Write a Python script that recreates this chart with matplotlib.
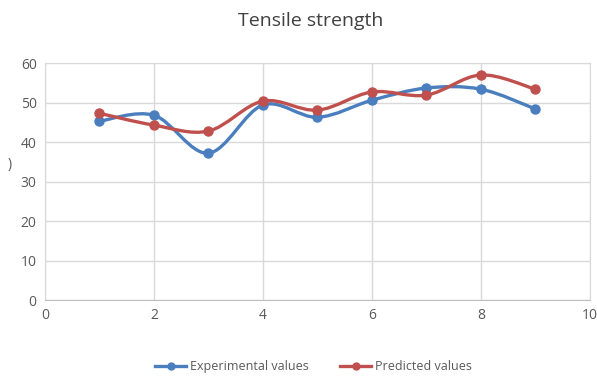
import numpy as np
import matplotlib
matplotlib.use("Agg")
import matplotlib.pyplot as plt
from matplotlib.path import Path
from matplotlib.patches import PathPatch

plt.rcParams['font.family'] = ['Open Sans', 'DejaVu Sans']

samples = [1, 2, 3, 4, 5, 6, 7, 8, 9]
experimental = [45.3, 46.8, 37.2, 49.4, 46.3, 50.6, 53.7, 53.4, 48.4]
predicted = [47.3, 44.3, 42.8, 50.4, 48.1, 52.7, 51.9, 57.0, 53.4]
x_ticks = [0, 2, 4, 6, 8, 10]
y_ticks = [0, 10, 20, 30, 40, 50, 60]

blue = '#4a7ebf'
red = '#c0504d'

fig = plt.figure(figsize=(5.97, 3.78), dpi=100)
ax = fig.add_axes([0.0754, 0.206, 0.9126, 0.627])


def smooth_path(xs, ys):
    """Bezier curve through the points, spreadsheet-style smoothing."""
    pts = np.column_stack([xs, ys]).astype(float)
    n = len(pts)
    verts = [pts[0]]
    codes = [Path.MOVETO]
    for i in range(n - 1):
        p0 = pts[i - 1] if i > 0 else pts[i]
        p1 = pts[i]
        p2 = pts[i + 1]
        p3 = pts[i + 2] if i + 2 < n else pts[i + 1]
        c1 = p1 + (p2 - p0) / 6.0
        c2 = p2 - (p3 - p1) / 6.0
        verts += [c1, c2, p2]
        codes += [Path.CURVE4] * 3
    return Path(verts, codes)


for ys, col, lab in [(experimental, blue, 'Experimental values'),
                     (predicted, red, 'Predicted values')]:
    ax.add_patch(PathPatch(smooth_path(samples, ys), facecolor='none',
                           edgecolor=col, lw=2.4, zorder=3,
                           capstyle='round', joinstyle='round'))
    ax.plot(samples, ys, 'o', color=col, ms=6.5, zorder=4)
    ax.plot([], [], '-o', color=col, lw=2.4, ms=5, label=lab)

ax.set_xlim(0, 10)
ax.set_ylim(0, 60)
ax.set_xticks(x_ticks)
ax.set_yticks(y_ticks)
ax.grid(True, color='#d9d9d9', lw=1.0)
ax.set_axisbelow(True)
for side in ['top', 'right', 'left']:
    ax.spines[side].set_color('#d9d9d9')
ax.spines['bottom'].set_color('#bfbfbf')
ax.tick_params(length=0, labelsize=10, labelcolor='#595959', pad=6)

fig.text(0.52, 0.945, 'Tensile strength', ha='center', va='center',
         fontsize=14, color='#404040')
fig.text(0.017, 0.565, ')', ha='center', va='center', fontsize=10,
         color='#595959')

fig.legend(loc='center', bbox_to_anchor=(0.525, 0.03), ncol=2, frameon=False,
           fontsize=9, labelcolor='#595959', handlelength=2.5,
           columnspacing=2.5, handletextpad=0.3)

fig.savefig('out.png', dpi=100)
